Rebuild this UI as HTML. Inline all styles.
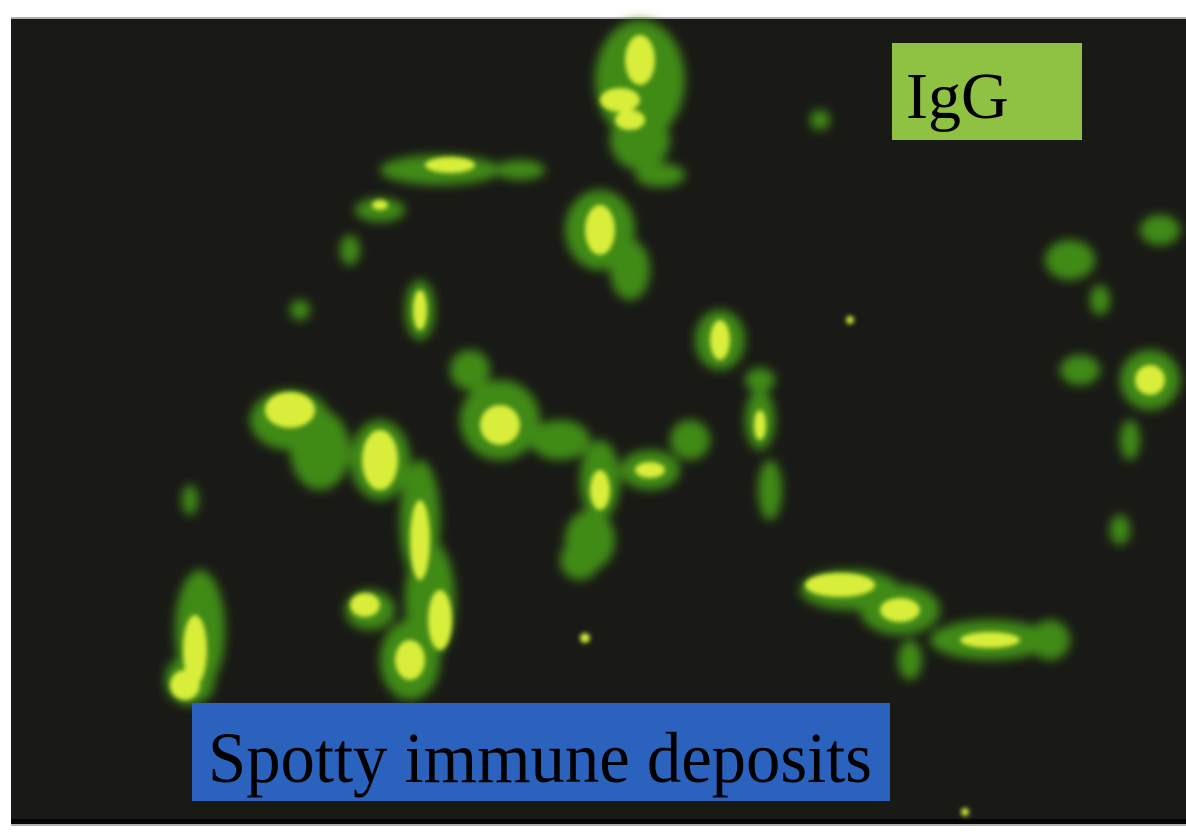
<!DOCTYPE html>
<html><head><meta charset="utf-8"><style>
html,body{margin:0;padding:0;background:#fff;}
svg{display:block}
</style></head><body>
<svg width="1186" height="840" viewBox="0 0 1186 840">
<defs>
<filter id="b" x="-50%" y="-50%" width="200%" height="200%"><feGaussianBlur stdDeviation="5"/></filter>
<filter id="b2" x="-50%" y="-50%" width="200%" height="200%"><feGaussianBlur stdDeviation="2.5"/></filter>
</defs>
<rect x="11" y="17" width="1175" height="806" fill="#191a16"/>
<rect x="11" y="17" width="1175" height="2" fill="#b0b0b0"/>
<rect x="11" y="819" width="1175" height="5" fill="#050505"/>
<rect x="11" y="824" width="1175" height="2" fill="#b0b0b0"/>
<g id="glow" filter="url(#b)" fill="#3f8a12"></g>
<g id="core" filter="url(#b2)" fill="#d8ee3a"></g>
<rect x="892" y="43" width="190" height="97" fill="#8fc142"/>
<text x="906" y="118" font-family="Liberation Serif, serif" font-size="66" fill="#000">IgG</text>
<rect x="192" y="703" width="698" height="98" fill="#2a62be"/>
<text x="208" y="782" font-family="Liberation Serif, serif" font-size="72" fill="#000" textLength="664" lengthAdjust="spacingAndGlyphs">Spotty immune deposits</text>
</svg>
<script>
// [cx, cy, rx, ry] approximate blobs
const glowBlobs=[[640,80,45,60],[640,140,30,30],[660,175,25,12],[600,230,35,40],[630,270,20,30],[440,170,60,15],[520,170,25,10],[380,210,25,12],[350,250,10,15],[300,310,10,10],[290,420,40,30],[320,450,30,40],[380,460,30,40],[420,520,20,60],[430,600,25,60],[410,660,30,40],[370,610,25,20],[200,630,25,60],[190,680,25,25],[500,420,40,40],[470,370,20,20],[560,440,30,20],[600,480,20,40],[590,540,25,30],[650,470,30,20],[690,440,20,20],[720,340,25,30],[760,380,15,12],[420,310,15,30],[850,590,50,20],[900,610,40,25],[990,640,60,20],[1050,640,20,20],[910,660,12,20],[1150,380,30,30],[1080,370,20,15],[1070,260,25,20],[1100,300,10,15],[1160,230,20,15],[1130,440,10,20],[1120,530,10,15],[760,420,15,30],[770,490,12,30],[820,120,10,10],[190,500,8,15],[580,560,20,20]];
const coreBlobs=[[640,60,15,25],[620,100,20,12],[630,120,15,10],[600,230,15,25],[450,165,25,8],[380,205,8,5],[290,410,25,18],[380,460,18,30],[420,540,10,40],[440,620,12,30],[410,660,15,20],[365,605,15,12],[195,650,12,35],[185,685,15,15],[500,425,20,20],[720,340,10,20],[420,310,7,20],[840,585,35,12],[900,610,20,12],[990,640,30,8],[1150,380,15,15],[760,425,6,15],[600,490,10,20],[650,470,15,8],[585,638,5,5],[965,812,4,4],[850,320,4,4]];
const ns='http://www.w3.org/2000/svg';
function draw(gid,arr){const g=document.getElementById(gid);arr.forEach(b=>{const e=document.createElementNS(ns,'ellipse');


e.setAttribute('cx',b[0]);e.setAttribute('cy',b[1]);e.setAttribute('rx',b[2]);e.setAttribute('ry',b[3]);g.appendChild(e);});}
draw('glow',glowBlobs);draw('core',coreBlobs);
</script>
</body></html>
